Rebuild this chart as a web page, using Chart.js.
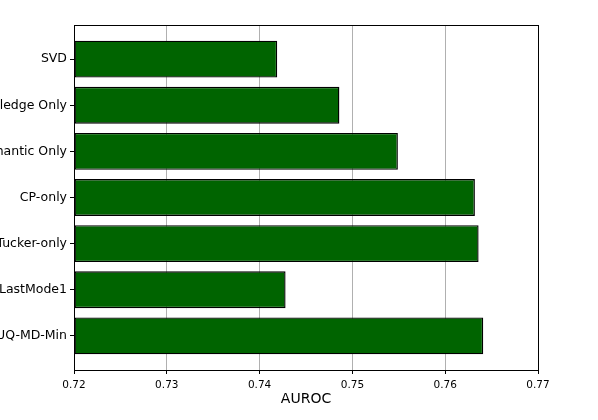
<!DOCTYPE html>
<html>
<head>
<meta charset="utf-8">
<script src="https://cdn.jsdelivr.net/npm/chart.js@4/dist/chart.umd.min.js"></script>
<style>
  html, body { margin: 0; padding: 0; background: #fff; overflow: hidden; width: 598px; height: 420px; }
  #wrap { position: absolute; left: -102px; top: 0; width: 700px; height: 420px; }
</style>
</head>
<body>
<div id="wrap"><canvas id="c" width="700" height="420"></canvas></div>
<script>
const categories = ["SVD", "Knowledge Only", "Semantic Only", "CP-only", "Tucker-only", "LastMode1", "UQ-MD-Min"];
const auroc = [0.7419, 0.7486, 0.7549, 0.7632, 0.7636, 0.7428, 0.7641];
const xTicks = [0.72, 0.73, 0.74, 0.75, 0.76, 0.77];
const xMin = 0.72, xMax = 0.77;

const FONT = "'DejaVu Sans', sans-serif";

const framePlugin = {
  id: 'frame',
  afterDraw(chart) {
    const a = chart.chartArea, ctx = chart.ctx;
    ctx.save();
    ctx.strokeStyle = '#000';
    ctx.lineWidth = 1;
    ctx.strokeRect(Math.round(a.left) + 0.5, Math.round(a.top) + 0.5,
                   Math.round(a.right) - Math.round(a.left), Math.round(a.bottom) - Math.round(a.top));
    ctx.restore();
  }
};

new Chart(document.getElementById('c'), {
  type: 'bar',
  data: {
    datasets: [{
      data: auroc.map((v, i) => ({ x: v, y: i })),
      base: xMin,
      backgroundColor: '#006400',
      borderColor: '#000000',
      borderWidth: 1.4,
      borderSkipped: false,
      categoryPercentage: 1.0,
      barPercentage: 0.8
    }]
  },
  options: {
    indexAxis: 'y',
    responsive: false,
    animation: false,
    layout: { padding: { top: 25, right: 60, bottom: 0, left: 0 } },
    plugins: { legend: { display: false }, tooltip: { enabled: false } },
    scales: {
      x: {
        type: 'linear',
        position: 'bottom',
        min: xMin, max: xMax,
        z: 1,
        afterBuildTicks: s => { s.ticks = xTicks.map(v => ({ value: v })); },
        afterFit: s => { s.height = 50; },
        border: { display: false },
        grid: { color: '#b0b0b0', lineWidth: 1, drawTicks: true, tickLength: 4, tickColor: '#000' },
        ticks: { color: '#000', font: { family: FONT, size: 10.5 }, padding: 5, maxRotation: 0,
                 callback: v => Number(v).toFixed(2) },
        title: { display: true, text: 'AUROC', color: '#000', font: { family: FONT, size: 14 },
                 padding: { top: 0, bottom: 12 } }
      },
      y: {
        type: 'linear',
        reverse: true,
        offset: false,
        min: -0.74, max: categories.length - 1 + 0.74,
        afterBuildTicks: s => { s.ticks = categories.map((c, i) => ({ value: i })); },
        afterFit: s => { s.width = 176; },
        border: { display: false },
        grid: { offset: false, drawOnChartArea: false, drawTicks: true, tickLength: 4, tickColor: '#000' },
        ticks: { color: '#000', font: { family: FONT, size: 12.5 }, padding: 3,
                 callback: v => categories[v] }
      }
    }
  },
  plugins: [framePlugin]
});
</script>
</body>
</html>
